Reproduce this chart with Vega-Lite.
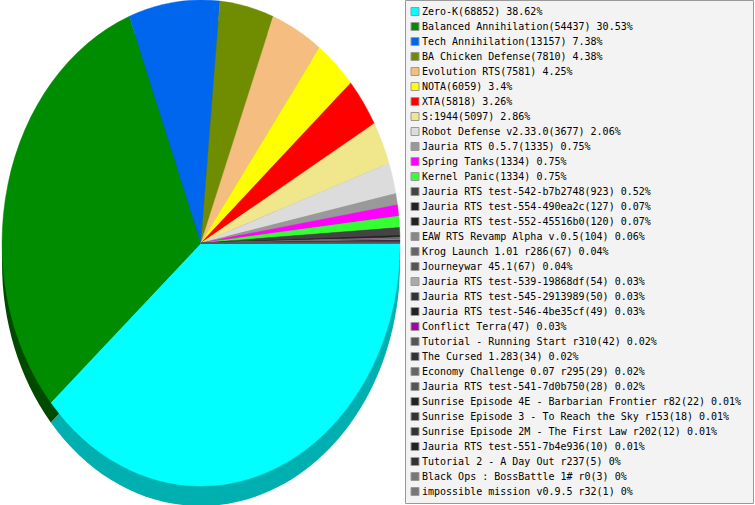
{"$schema":"https://vega.github.io/schema/vega-lite/v6.json","width":402,"height":486,"autosize":{"type":"none"},"padding":{"left":0,"top":0,"right":353,"bottom":19},"background":"#ffffff","config":{"view":{"stroke":null}},"data":{"values":[
{"label":"Zero-K(68852) 38.62%","game":"Zero-K","players":68852,"share":38.62},
{"label":"Balanced Annihilation(54437) 30.53%","game":"Balanced Annihilation","players":54437,"share":30.53},
{"label":"Tech Annihilation(13157) 7.38%","game":"Tech Annihilation","players":13157,"share":7.38},
{"label":"BA Chicken Defense(7810) 4.38%","game":"BA Chicken Defense","players":7810,"share":4.38},
{"label":"Evolution RTS(7581) 4.25%","game":"Evolution RTS","players":7581,"share":4.25},
{"label":"NOTA(6059) 3.4%","game":"NOTA","players":6059,"share":3.4},
{"label":"XTA(5818) 3.26%","game":"XTA","players":5818,"share":3.26},
{"label":"S:1944(5097) 2.86%","game":"S:1944","players":5097,"share":2.86},
{"label":"Robot Defense v2.33.0(3677) 2.06%","game":"Robot Defense v2.33.0","players":3677,"share":2.06},
{"label":"Jauria RTS 0.5.7(1335) 0.75%","game":"Jauria RTS 0.5.7","players":1335,"share":0.75},
{"label":"Spring Tanks(1334) 0.75%","game":"Spring Tanks","players":1334,"share":0.75},
{"label":"Kernel Panic(1334) 0.75%","game":"Kernel Panic","players":1334,"share":0.75},
{"label":"Jauria RTS test-542-b7b2748(923) 0.52%","game":"Jauria RTS test-542-b7b2748","players":923,"share":0.52},
{"label":"Jauria RTS test-554-490ea2c(127) 0.07%","game":"Jauria RTS test-554-490ea2c","players":127,"share":0.07},
{"label":"Jauria RTS test-552-45516b0(120) 0.07%","game":"Jauria RTS test-552-45516b0","players":120,"share":0.07},
{"label":"EAW RTS Revamp Alpha v.0.5(104) 0.06%","game":"EAW RTS Revamp Alpha v.0.5","players":104,"share":0.06},
{"label":"Krog Launch 1.01 r286(67) 0.04%","game":"Krog Launch 1.01 r286","players":67,"share":0.04},
{"label":"Journeywar 45.1(67) 0.04%","game":"Journeywar 45.1","players":67,"share":0.04},
{"label":"Jauria RTS test-539-19868df(54) 0.03%","game":"Jauria RTS test-539-19868df","players":54,"share":0.03},
{"label":"Jauria RTS test-545-2913989(50) 0.03%","game":"Jauria RTS test-545-2913989","players":50,"share":0.03},
{"label":"Jauria RTS test-546-4be35cf(49) 0.03%","game":"Jauria RTS test-546-4be35cf","players":49,"share":0.03},
{"label":"Conflict Terra(47) 0.03%","game":"Conflict Terra","players":47,"share":0.03},
{"label":"Tutorial - Running Start r310(42) 0.02%","game":"Tutorial - Running Start r310","players":42,"share":0.02},
{"label":"The Cursed 1.283(34) 0.02%","game":"The Cursed 1.283","players":34,"share":0.02},
{"label":"Economy Challenge 0.07 r295(29) 0.02%","game":"Economy Challenge 0.07 r295","players":29,"share":0.02},
{"label":"Jauria RTS test-541-7d0b750(28) 0.02%","game":"Jauria RTS test-541-7d0b750","players":28,"share":0.02},
{"label":"Sunrise Episode 4E - Barbarian Frontier r82(22) 0.01%","game":"Sunrise Episode 4E - Barbarian Frontier r82","players":22,"share":0.01},
{"label":"Sunrise Episode 3 - To Reach the Sky r153(18) 0.01%","game":"Sunrise Episode 3 - To Reach the Sky r153","players":18,"share":0.01},
{"label":"Sunrise Episode 2M - The First Law r202(12) 0.01%","game":"Sunrise Episode 2M - The First Law r202","players":12,"share":0.01},
{"label":"Jauria RTS test-551-7b4e936(10) 0.01%","game":"Jauria RTS test-551-7b4e936","players":10,"share":0.01},
{"label":"Tutorial 2 - A Day Out r237(5) 0%","game":"Tutorial 2 - A Day Out r237","players":5,"share":0},
{"label":"Black Ops : BossBattle 1# r0(3) 0%","game":"Black Ops : BossBattle 1# r0","players":3,"share":0},
{"label":"impossible mission v0.9.5 r32(1) 0%","game":"impossible mission v0.9.5 r32","players":1,"share":0}
]},
"encoding":{"shape":{"field":"label","type":"nominal","sort":null,"legend":null,"scale":{"range":[
"M0,0L199,0A199,243,0,0,1,-150.2,159.4Z",
"M0,0L-150.2,159.4A199,243,0,0,1,-71.6,-226.7Z",
"M0,0L-71.6,-226.7A199,243,0,0,1,19,-241.9Z",
"M0,0L19,-241.9A199,243,0,0,1,72.2,-226.5Z",
"M0,0L72.2,-226.5A199,243,0,0,1,118.5,-195.2Z",
"M0,0L118.5,-195.2A199,243,0,0,1,149.7,-160.1Z",
"M0,0L149.7,-160.1A199,243,0,0,1,173.3,-119.5Z",
"M0,0L173.3,-119.5A199,243,0,0,1,188,-79.8Z",
"M0,0L188,-79.8A199,243,0,0,1,194.8,-49.5Z",
"M0,0L194.8,-49.5A199,243,0,0,1,196.5,-38.2Z",
"M0,0L196.5,-38.2A199,243,0,0,1,197.8,-26.9Z",
"M0,0L197.8,-26.9A199,243,0,0,1,198.6,-15.5Z",
"M0,0L198.6,-15.5A199,243,0,0,1,198.9,-7.6Z",
"M0,0L198.9,-7.6A199,243,0,0,1,198.9,-6.5Z",
"M0,0L198.9,-6.5A199,243,0,0,1,199,-5.5Z",
"M0,0L199,-5.5A199,243,0,0,1,199,-4.6Z",
"M0,0L199,-4.6A199,243,0,0,1,199,-4Z",
"M0,0L199,-4A199,243,0,0,1,199,-3.5Z",
"M0,0L199,-3.5A199,243,0,0,1,199,-3Z",
"M0,0L199,-3A199,243,0,0,1,199,-2.6Z",
"M0,0L199,-2.6A199,243,0,0,1,199,-2.1Z",
"M0,0L199,-2.1A199,243,0,0,1,199,-1.7Z",
"M0,0L199,-1.7A199,243,0,0,1,199,-1.4Z",
"M0,0L199,-1.4A199,243,0,0,1,199,-1.1Z",
"M0,0L199,-1.1A199,243,0,0,1,199,-0.85Z",
"M0,0L199,-0.85A199,243,0,0,1,199,-0.6Z",
"M0,0L199,-0.6A199,243,0,0,1,199,-0.42Z",
"M0,0L199,-0.42A199,243,0,0,1,199,-0.27Z",
"M0,0L199,-0.27A199,243,0,0,1,199,-0.16Z",
"M0,0L199,-0.16A199,243,0,0,1,199,-0.08Z",
"M0,0L199,-0.08A199,243,0,0,1,199,-0.03Z",
"M0,0L199,-0.03A199,243,0,0,1,199,-0.01Z",
"M0,0L199,-0.01A199,243,0,0,1,199,0Z"
]}}},
"layer":[
{"mark":{"type":"point","filled":true,"opacity":1,"size":4,"yOffset":20},"encoding":{"color":{"field":"label","type":"nominal","sort":null,"legend":null,"scale":{"range":["#00b0b0","#004a00","#00408f","#465800","#9a7850","#a0a000","#a00000","#978f58","#8a8a8a","#606060","#a000a0","#20a020","#2a2a2a","#151515","#151515","#555555","#404040","#353535","#6a6a6a","#202020","#151515","#6a006a","#353535","#202020","#404040","#353535","#151515","#202020","#202020","#151515","#202020","#4a4a4a","#4a4a4a"]}}}},
{"mark":{"type":"point","filled":true,"opacity":1,"size":4,"strokeWidth":0.4},"encoding":{"color":{"field":"label","type":"nominal","sort":null,"scale":{"range":["#00ffff","#008c00","#0066ee","#708c00","#f5be80","#ffff00","#ff0000","#f0e68c","#dcdcdc","#999999","#ff00ff","#33ff33","#444444","#222222","#222222","#888888","#666666","#555555","#aaaaaa","#333333","#222222","#aa00aa","#555555","#333333","#666666","#555555","#222222","#333333","#333333","#222222","#333333","#777777","#777777"]},"legend":{"title":"\u00a0","titleOrient":"right","titlePadding":8,"titleFontSize":10,"orient":"none","legendX":405,"legendY":0,"padding":4,"fillColor":"#f3f3f3","strokeColor":"#999999","symbolType":"square","symbolSize":64,"symbolStrokeWidth":1,"symbolOffset":1,"symbolOpacity":1,"clipHeight":15,"rowPadding":0,"columns":1,"labelFont":"DejaVu Sans Mono","labelFontSize":10,"labelColor":"#000000","labelLimit":500,"labelOffset":2,"symbolLimit":40,"encode":{"symbols":{"update":{"stroke":{"value":"#999999"}}}}}},"stroke":{"field":"label","type":"nominal","sort":null,"legend":null,"scale":{"range":["#00ffff","#008c00","#0066ee","#708c00","#f5be80","#ffff00","#ff0000","#f0e68c","#dcdcdc","#999999","#ff00ff","#33ff33","#444444","#222222","#222222","#888888","#666666","#555555","#aaaaaa","#333333","#222222","#aa00aa","#555555","#333333","#666666","#555555","#222222","#333333","#333333","#222222","#333333","#777777","#777777"]}}}}
],"resolve":{"scale":{"color":"independent"}}}
